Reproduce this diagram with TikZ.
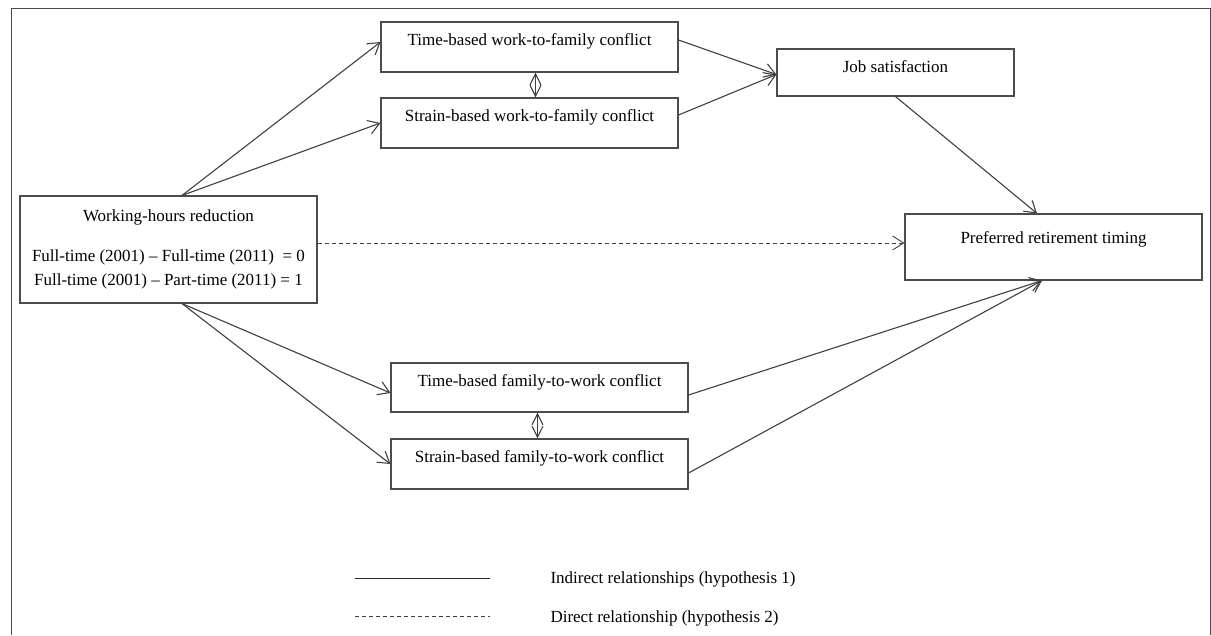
\documentclass[tikz,border=0pt]{standalone}
\usepackage{fontspec}
\setmainfont{Liberation Serif}
\usetikzlibrary{arrows.meta}

\begin{document}
\begin{tikzpicture}[x=1pt,y=-1pt,
            font=\fontsize{17}{24}\selectfont,
            box/.style={draw=black!70,line width=1.1pt,inner sep=0pt,minimum width=297pt,text height=23pt,text depth=27pt},
            link/.style={draw=black!75,line width=1.1pt,-{Straight Barb[length=11pt,width=14pt]}},
            both/.style={draw=black!75,line width=1.1pt,{Straight Barb[length=11pt,width=11pt]}-{Straight Barb[length=11pt,width=11pt]}},
            direct/.style={link,line width=0.9pt,dash pattern=on 4pt off 3pt}]
            \useasboundingbox (0,0) rectangle (1211,635);

            % Frame
            \draw[black!70,line width=1pt] (11,635) -- (11,8) -- (1210,8) -- (1210,635);

            % Boxes
            \node[draw=black!70,line width=1.1pt,minimum width=297pt,minimum height=107pt,align=center] (hours) at (168.5,249.5)
            {Working-hours reduction\\[16pt]Full-time (2001) -- Full-time (2011)\ \ = 0\\Full-time (2001) -- Part-time (2011) = 1};
            \node[box,anchor=base] (timewf) at (529.5,45) {Time-based work-to-family conflict};
            \node[box,anchor=base] (strainwf) at (529.5,121) {Strain-based work-to-family conflict};
            \node[box,anchor=base,minimum width=237pt,text depth=24pt] (job) at (895.5,72) {Job satisfaction};
            \node[box,anchor=base,text height=29pt,text depth=37pt] (retire) at (1053.5,243) {Preferred retirement timing};
            \node[box,anchor=base,text depth=26pt] (timefw) at (539.5,386) {Time-based family-to-work conflict};
            \node[box,anchor=base] (strainfw) at (539.5,462) {Strain-based family-to-work conflict};

            % Arrows
            \draw[link] ([xshift=13.5pt]hours.north) -- ([yshift=5pt]timewf.west);
            \draw[link] ([xshift=13.5pt]hours.north) -- (strainwf.west);
            \draw[link] ([xshift=13.5pt]hours.south) -- ([yshift=-5.5pt]timefw.west);
            \draw[link] ([xshift=13.5pt]hours.south) -- (strainfw.west);
            \draw[link] ([yshift=7pt]timewf.east) -- ([yshift=-2pt]job.west);
            \draw[link] ([yshift=8pt]strainwf.east) -- ([yshift=-2pt]job.west);
            \draw[link] (job.south) -- ([xshift=-16.5pt]retire.north);
            \draw[link] ([yshift=-7.5pt]timefw.east) -- ([xshift=-11.5pt]retire.south);
            \draw[link] ([yshift=-9pt]strainfw.east) -- ([xshift=-11.5pt]retire.south);
            \draw[direct] ([yshift=6.5pt]hours.east) -- ([yshift=6.5pt]hours.east -| retire.west);

            \draw[both] ([xshift=6pt]timewf.south) -- ([xshift=6pt]strainwf.north);
            \draw[both] ([xshift=-2pt]timefw.south) -- ([xshift=-2pt]strainfw.north);

            % Legend
            \coordinate (solidA) at (355,578);
            \coordinate (solidB) at (490,578);
            \coordinate (dashA) at (355,616);
            \coordinate (dashB) at (490,616);
            \draw[black!85,line width=1pt] (solidA) -- (solidB);
            \draw[black!75,line width=0.9pt,dash pattern=on 4pt off 3pt] (dashA) -- (dashB);
            \node[anchor=base west] (indirect) at (547,583) {Indirect relationships (hypothesis 1)};
            \node[anchor=base west] (directlab) at (547,622) {Direct relationship (hypothesis 2)};
        \end{tikzpicture}
\end{document}
